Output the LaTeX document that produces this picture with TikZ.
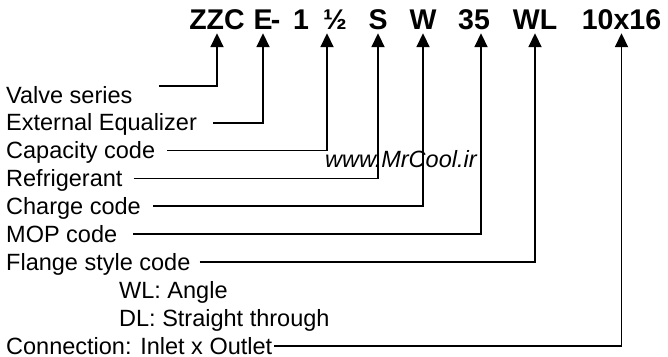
\documentclass[tikz,border=0pt]{standalone}
\usepackage{fontspec}
\setmainfont{Liberation Sans}
\usetikzlibrary{arrows.meta,positioning}

\begin{document}
\begin{tikzpicture}[x=1pt, y=-1pt, >={Triangle[width=13pt,length=14pt]},
code/.style={font=\bfseries\fontsize{28.5}{30}\selectfont, anchor=base, inner xsep=0pt, inner ysep=4pt, text depth=0pt},
part/.style={font=\fontsize{23.5}{26}\selectfont, inner sep=0pt, text height=16.6pt, text depth=0pt},
lead/.style={->, line width=1.8pt}]
\useasboundingbox (0,0) rectangle (668,356);
% type code
\node[code] (ser) at (217,29) {ZZC};
\node[code] (eq) at (263,29) {E};
\node[code] (dash) at (275.5,29) {-};
\node[code] (one) at (301,29) {1};
\node[code] (half) at (335,29) {½};
\node[code] (ref) at (378,29) {S};
\node[code] (chg) at (423,29) {W};
\node[code] (mop) at (474,29) {35};
\node[code] (flg) at (535,29) {WL};
\node[code] (con) at (621.5,29) {10x16};
% legend
\node[part, anchor=base west] (valve) at (6,103) {Valve series};
\node[part, below=10.9pt of valve.south west, anchor=north west] (ext) {External Equalizer};
\node[part, below=10.9pt of ext.south west, anchor=north west] (capy) {Capacity code};
\node[part, below=10.9pt of capy.south west, anchor=north west] (refr) {Refrigerant};
\node[part, below=10.9pt of refr.south west, anchor=north west] (chrg) {Charge code};
\node[part, below=10.9pt of chrg.south west, anchor=north west] (mopl) {MOP code};
\node[part, below=10.9pt of mopl.south west, anchor=north west] (flng) {Flange style code};
\node[part, below=10.9pt of flng.south west, anchor=north west, xshift=113pt] (wl) {WL: Angle};
\node[part, below=10.9pt of wl.south west, anchor=north west] (dl) {DL: Straight through};
\node[part, below=10.9pt of dl.south west, anchor=north west, xshift=-113pt] (conn) {Connection: Inlet x Outlet};
\node[font=\itshape\fontsize{23.5}{26}\selectfont, anchor=base west, inner sep=0pt] (site) at (325,167) {www.MrCool.ir};
% leaders
\draw[lead] ([xshift=26pt, yshift=9pt]valve.east) -| (ser.south);
\draw[lead] ([xshift=16pt]ext.east) -| (eq.south);
\draw[lead] ([xshift=12pt]capy.east) -| ([xshift=-8pt]half.south);
\draw[lead] ([xshift=11pt]refr.east) -| (ref.south);
\draw[lead] ([xshift=12pt]chrg.east) -| (chg.south);
\draw[lead] ([xshift=16pt]mopl.east) -| ([xshift=7pt]mop.south);
\draw[lead] ([xshift=9pt]flng.east) -| (flg.south);
\draw[lead] ([xshift=2pt]conn.east) -| (con.south);
\end{tikzpicture}
\end{document}
